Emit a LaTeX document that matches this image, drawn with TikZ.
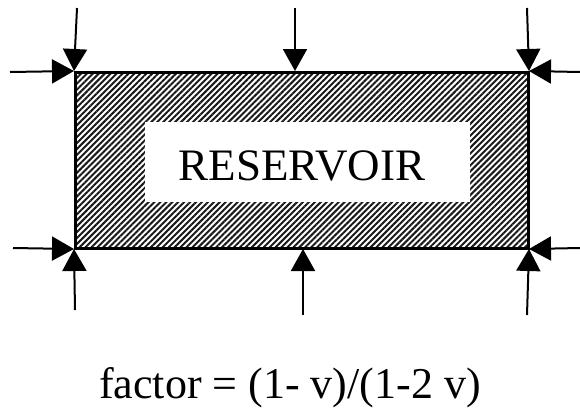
\documentclass[tikz,border=0pt]{standalone}
\usepackage{fontspec}
\setmainfont{Liberation Serif}
\usetikzlibrary{arrows.meta,patterns.meta}
\begin{document}
\begin{tikzpicture}[x=1pt,y=-1pt,
  arr/.style={line width=2pt,-{Triangle[width=24pt,length=22pt]}},
  hatch/.style={draw=black,line width=3pt,
    pattern={Lines[angle=45,distance=4.2pt,line width=2pt]},pattern color=black!90},
  lbl/.style={font=\fontsize{45}{50}\selectfont,inner sep=0pt}]
\useasboundingbox (0,0) rectangle (580,410);
\node[hatch,minimum width=453pt,minimum height=176pt,inner sep=0pt] (res) at (301.5,160) {};
\node[fill=white,minimum width=325pt,minimum height=80pt,inner sep=0pt] (inner) at (307.5,162) {};
\node[lbl,anchor=base] (name) at (302,180) {RESERVOIR};
\node[font=\fontsize{44}{50}\selectfont,inner sep=0pt,anchor=base] (factor) at (290,398) {factor = (1- v)/(1-2 v)};
% top arrows
\coordinate (t1) at (77,8);
\coordinate (t2) at (295,8);
\coordinate (t3) at (527,8);
\draw[arr] (t1) -- (res.north west);
\draw[arr] (t2) -- (t2 |- res.north);
\draw[arr] (t3) -- (res.north east);
% side arrows top
\coordinate (l1) at (10,72);
\coordinate (r1) at (580,72);
\draw[arr] (l1) -- (res.north west);
\draw[arr] (r1) -- (res.north east);
% side arrows bottom
\coordinate (l2) at (13,248);
\coordinate (r2) at (580,248);
\draw[arr] (l2) -- (res.south west);
\draw[arr] (r2) -- (res.south east);
% bottom arrows
\coordinate (b1) at (75,310);
\coordinate (b2) at (303,315);
\coordinate (b3) at (527,315);
\draw[arr] (b1) -- (res.south west);
\draw[arr] (b2) -- (b2 |- res.south);
\draw[arr] (b3) -- (res.south east);
\end{tikzpicture}
\end{document}
